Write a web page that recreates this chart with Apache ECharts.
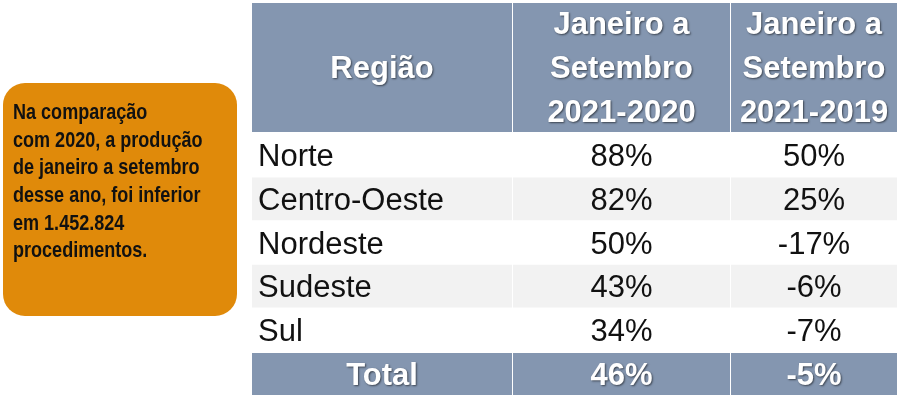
<!DOCTYPE html>
<html><head><meta charset="utf-8">
<script src="https://cdn.jsdelivr.net/npm/echarts@6/dist/echarts.min.js"></script>
<style>html,body{margin:0;padding:0;background:#fff}#c{width:900px;height:400px}</style>
</head><body><div id="c"></div>
<script>
const headers = ['Região', 'Janeiro a\nSetembro\n2021-2020', 'Janeiro a\nSetembro\n2021-2019'];
const regions = ['Norte', 'Centro-Oeste', 'Nordeste', 'Sudeste', 'Sul'];
const col2020 = ['88%', '82%', '50%', '43%', '34%'];
const col2019 = ['50%', '25%', '-17%', '-6%', '-7%'];
const total = ['Total', '46%', '-5%'];
const note = 'Na comparação\ncom 2020, a produção\nde janeiro a setembro\ndesse ano, foi inferior\nem 1.452.824\nprocedimentos.';

const colX = [252, 513, 731, 898];
const headTop = 3, headBot = 132;
const rowTop = 134, rowH = 43.6;
const blue = '#8496b0';
const els = [];
const shadow = {textShadowColor:'rgba(0,0,0,0.55)',textShadowBlur:2,textShadowOffsetX:1,textShadowOffsetY:1};
els.push({type:'rect', shape:{x:3,y:83,width:234,height:233,r:22}, style:{fill:'#e08a0a'}});
els.push({type:'text', x:13, y:99, scaleX:0.82, style:Object.assign({x:0,y:0,text:note,fill:'#111',font:'bold 22px "Liberation Sans",Arial,sans-serif',lineHeight:27.7})});
for (let c=0;c<3;c++){
  const x=colX[c], w=colX[c+1]-x-1;
  els.push({type:'rect',shape:{x,y:headTop,width:w,height:headBot-headTop},style:{fill:blue}});
  els.push({type:'text',style:Object.assign({x:x+w/2,y:(headTop+headBot)/2+2,text:headers[c],align:'center',verticalAlign:'middle',fill:'#fff',font:'bold 31px "Liberation Sans",Arial,sans-serif',lineHeight:44},shadow)});
}
for (let r=0;r<regions.length;r++){
  const y=rowTop+r*rowH;
  const vals=[regions[r],col2020[r],col2019[r]];
  for (let c=0;c<3;c++){
    const x=colX[c], w=colX[c+1]-x-1;
    els.push({type:'rect',shape:{x,y,width:w,height:rowH-1},style:{fill:r%2?'#f2f2f2':'#ffffff'}});
    els.push({type:'text',style:{x:c===0?x+6:x+w/2,y:y+rowH/2+2,text:vals[c],align:c===0?'left':'center',verticalAlign:'middle',fill:'#111',font:'31px "Liberation Sans",Arial,sans-serif'}});
  }
}
const ty=rowTop+regions.length*rowH+1;
for (let c=0;c<3;c++){
  const x=colX[c], w=colX[c+1]-x-1;
  els.push({type:'rect',shape:{x,y:ty,width:w,height:395-ty},style:{fill:blue}});
  els.push({type:'text',style:Object.assign({x:x+w/2,y:(ty+395)/2+2,text:total[c],align:'center',verticalAlign:'middle',fill:'#fff',font:'bold 31px "Liberation Sans",Arial,sans-serif'},shadow)});
}
const chart=echarts.init(document.getElementById('c'));
chart.setOption({animation:false,graphic:{elements:els}});
</script></body></html>
